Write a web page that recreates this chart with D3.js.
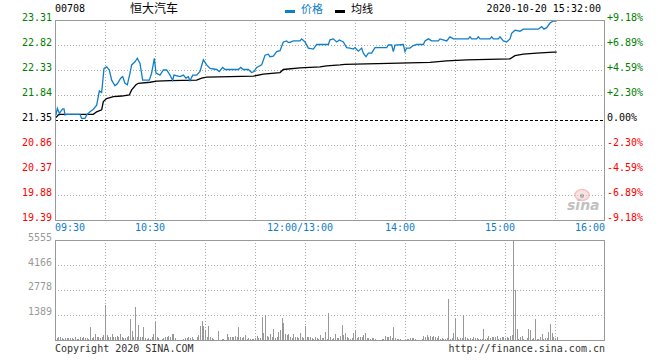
<!DOCTYPE html>
<html><head><meta charset="utf-8">
<script src="https://cdn.jsdelivr.net/npm/d3@7"></script>
<style>
html,body{margin:0;padding:0;background:#fff;}
svg{display:block;}
.mono{font-family:"DejaVu Sans Mono",monospace;font-size:10px;}
.cjk{font-family:"Noto Sans CJK SC",sans-serif;}
</style></head>
<body>
<svg id="chart" width="660" height="360"></svg>
<script>
// ---- data ----
const stockCode = "00708";
const stockName = "恒大汽车";
const timestamp = "2020-10-20 15:32:00";
const priceTicks = [23.31, 22.82, 22.33, 21.84, 21.35, 20.86, 20.37, 19.88, 19.39];
const pctTicks = ["+9.18%", "+6.89%", "+4.59%", "+2.30%", "0.00%", "-2.30%", "-4.59%", "-6.89%", "-9.18%"];
const volTicks = [5555, 4166, 2778, 1389];
const timeLabels = ["09:30", "10:30", "12:00/13:00", "14:00", "15:00", "16:00"];
const timeLabelMinutes = [0, 60, 150, 210, 270, 330];
const prevClose = 21.35;

const priceMinute = [0.6,1.4,2.6,4.6,5.4,6,7,15,16,18,19,21,23,25,26.6,28,29.4,31,32.6,34,36,37.4,39.4,40.6,42,43.4,45,46,48,49.4,51,52.6,56.6,58,59.6,60.6,63,65,67,69,70.6,71.4,75,77,78.6,80,81,82.6,85,87,89,91,93,97,98.6,100.6,102,110,111.4,113,116,118,119.4,121,124,126,128,129,131,133,135,137,139,140,141,143,147,148,150,152,155,157,164,165,167,169,170.6,173,175,177,179,180,182,184,185,186.6,188,190,192,199,200,202,203,204,209,210,211,213,215,217,221,222,224,226,230,231,235,237,239,248,249,250,253,254,255,261,262,263,266,267,268,269,271,273,274,276,279,281,290,292,293.4,295,297,299,301];
const price = [21.45,21.58,21.48,21.57,21.57,21.45,21.46,21.46,21.38,21.38,21.45,21.51,21.56,21.64,21.92,21.89,22.36,22.39,22.33,22.13,22.02,22.06,22.17,22.20,22.07,22.04,22.27,22.43,22.49,22.56,22.46,22.13,22.13,22.27,22.56,22.27,22.23,22.33,22.33,22.23,22.13,22.23,22.20,22.23,22.17,22.20,22.12,22.23,22.23,22.30,22.53,22.43,22.36,22.34,22.30,22.38,22.34,22.34,22.38,22.34,22.34,22.28,22.30,22.38,22.43,22.62,22.64,22.59,22.60,22.69,22.71,22.88,22.90,22.87,22.87,22.90,22.90,22.94,22.88,22.76,22.74,22.83,22.83,22.92,22.94,22.88,22.92,22.88,22.77,22.76,22.74,22.77,22.70,22.76,22.66,22.59,22.66,22.66,22.77,22.77,22.82,22.82,22.69,22.82,22.83,22.69,22.76,22.76,22.81,22.83,22.83,22.90,22.94,22.90,22.90,22.94,22.90,22.98,22.94,22.94,22.98,22.94,22.94,22.98,22.94,22.94,22.98,22.94,22.94,22.98,22.94,22.90,22.88,22.94,23.05,23.11,23.09,23.13,23.13,23.18,23.13,23.16,23.25,23.29,23.29];

const avgMinute = [0.6,2,3,23,25,28,29,31,35,40,44.6,46,48.6,50,57,61,69,85,88,91,105,119,125,135,137,147,159,163,171,174,200,225,235,247,273,276,281,289,299,301];
const avgPrice = [21.40,21.45,21.46,21.46,21.51,21.55,21.71,21.77,21.81,21.82,21.84,21.94,22.04,22.07,22.09,22.11,22.12,22.13,22.17,22.19,22.20,22.21,22.25,22.28,22.34,22.37,22.39,22.41,22.43,22.44,22.46,22.48,22.51,22.53,22.55,22.61,22.64,22.66,22.68,22.68];

// volume per minute, minute 0 .. 301
const volume = [
93,130,148,148,111,74,111,130,93,130,
111,74,148,55,74,185,93,148,93,130,
74,720,93,185,333,148,148,130,148,300,
1944,280,148,185,315,148,185,222,148,333,
148,93,111,185,222,1167,500,148,1833,185,
833,148,148,722,93,74,93,74,148,333,
1000,148,93,0,74,93,148,185,222,148,
315,333,93,0,0,0,0,74,93,111,
148,93,148,74,0,148,259,777,1055,777,
555,185,777,148,111,74,0,0,500,0,
55,74,0,315,185,185,185,148,222,185,
722,148,111,185,278,74,93,74,55,74,
93,222,93,111,1296,370,1370,222,185,315,
148,611,93,148,444,555,1240,963,333,278,
333,148,111,333,148,185,93,370,148,93,
777,148,148,148,93,74,185,93,74,278,
93,111,444,74,1518,148,74,111,333,93,
111,222,833,259,389,148,93,74,93,389,
555,111,148,148,185,278,389,93,130,74,
93,111,74,0,0,0,55,55,222,148,
185,222,111,722,93,55,74,55,0,0,
0,55,74,130,93,130,74,0,0,0,
74,222,148,278,185,222,148,222,148,93,
222,74,93,74,74,93,2277,74,93,407,
1167,148,74,93,111,1370,148,111,74,111,
74,148,93,93,74,55,74,611,74,93,
222,93,148,185,148,222,74,111,148,185,
93,148,93,222,278,5555,2777,611,74,185,
222,74,0,93,611,555,55,111,1167,55,
74,148,333,74,93,111,444,888,407,148,
130,167
];

// ---- drawing ----
const svg = d3.select("#chart");
const L = 55, R = 605, PT = 20, PB = 220, VT = 240, VB = 340;
const x = d3.scaleLinear().domain([0, 330]).range([L, R]);
const yP = d3.scaleLinear().domain([19.39, 23.31]).range([PB, PT]);
const yV = d3.scaleLinear().domain([0, 5555]).range([VB, VT]);
const gridColor = "#aaa";
const blue = "#0f7ec8";
const green = "#008000";
const red = "#ff0000";

const vGrid = d3.range(30, 330, 30);

function vGridLines(top, bottom) {
  svg.append("g").selectAll("line").data(vGrid).join("line")
    .attr("x1", d => Math.round(x(d)) + 0.5).attr("x2", d => Math.round(x(d)) + 0.5)
    .attr("y1", top).attr("y2", bottom)
    .attr("stroke", gridColor).attr("stroke-dasharray", "1,2")
    .attr("shape-rendering", "crispEdges");
}

// price panel grid
vGridLines(PT, PB);
svg.append("g").selectAll("line").data(priceTicks.filter(t => t !== 23.31 && t !== 19.39 && t !== prevClose)).join("line")
  .attr("x1", L).attr("x2", R)
  .attr("y1", d => Math.round(yP(d)) + 0.5).attr("y2", d => Math.round(yP(d)) + 0.5)
  .attr("stroke", gridColor).attr("stroke-dasharray", "1,2")
  .attr("shape-rendering", "crispEdges");

// sina watermark
const wm = svg.append("g").attr("opacity", 0.6);
wm.append("ellipse").attr("cx", 582).attr("cy", 195).attr("rx", 7).attr("ry", 5.5)
  .attr("fill", "#f8d0d0").attr("stroke", "#f09a9a").attr("stroke-width", 1.5);
wm.append("circle").attr("cx", 582).attr("cy", 196).attr("r", 2.2).attr("fill", "#888");
wm.append("text").attr("x", 567).attr("y", 210)
  .attr("font-family", "DejaVu Sans, sans-serif").attr("font-size", 14)
  .attr("font-style", "italic").attr("font-weight", "bold")
  .attr("fill", "#999").text("sina");

// zero line
svg.append("line").attr("x1", L).attr("x2", R)
  .attr("y1", Math.round(yP(prevClose)) + 0.5).attr("y2", Math.round(yP(prevClose)) + 0.5)
  .attr("stroke", "#000").attr("stroke-dasharray", "3,2").attr("shape-rendering", "crispEdges");

// avg line
const avgData = avgMinute.map((m, i) => [m, avgPrice[i]]);
svg.append("path").datum(avgData)
  .attr("d", d3.line().x(d => x(d[0])).y(d => yP(d[1])))
  .attr("fill", "none").attr("stroke", "#000").attr("stroke-width", 1.3);

// price line
const priceData = priceMinute.map((m, i) => [m, price[i]]);
svg.append("path").datum(priceData)
  .attr("d", d3.line().x(d => x(d[0])).y(d => yP(d[1])))
  .attr("fill", "none").attr("stroke", blue).attr("stroke-width", 1.3);

// price panel border
svg.append("rect").attr("x", L + 0.5).attr("y", PT + 0.5).attr("width", R - L - 1).attr("height", PB - PT)
  .attr("fill", "none").attr("stroke", "#999").attr("shape-rendering", "crispEdges");

// left price labels
svg.append("g").selectAll("text").data(priceTicks).join("text")
  .attr("class", "mono").attr("x", 52).attr("y", d => yP(d) + 0.5)
  .attr("text-anchor", "end")
  .attr("fill", d => d > prevClose ? green : (d < prevClose ? red : "#000"))
  .text(d => d.toFixed(2));

// right pct labels
svg.append("g").selectAll("text").data(pctTicks).join("text")
  .attr("class", "mono").attr("x", 607).attr("y", (d, i) => yP(priceTicks[i]) + 0.5)
  .attr("fill", (d, i) => i < 4 ? green : (i > 4 ? red : "#000"))
  .text(d => d);

// time labels
svg.append("g").selectAll("text").data(timeLabels).join("text")
  .attr("class", "mono").attr("y", 231).attr("fill", blue)
  .attr("x", (d, i) => i === 0 ? x(timeLabelMinutes[i]) : (i === timeLabels.length - 1 ? x(timeLabelMinutes[i]) : x(timeLabelMinutes[i]) - 5))
  .attr("text-anchor", (d, i) => i === 0 ? "start" : (i === timeLabels.length - 1 ? "end" : "middle"))
  .text(d => d);

// volume panel grid
vGridLines(VT, VB);
svg.append("g").selectAll("line").data(volTicks.slice(1)).join("line")
  .attr("x1", L).attr("x2", R)
  .attr("y1", d => Math.round(yV(d)) + 0.5).attr("y2", d => Math.round(yV(d)) + 0.5)
  .attr("stroke", gridColor).attr("stroke-dasharray", "1,2")
  .attr("shape-rendering", "crispEdges");

// volume bars
svg.append("g").selectAll("rect").data(volume).join("rect")
  .attr("x", (d, i) => Math.round(x(i)))
  .attr("width", 1)
  .attr("y", d => yV(d))
  .attr("height", d => VB - yV(d))
  .attr("fill", "#999").attr("shape-rendering", "crispEdges");

// volume border
svg.append("rect").attr("x", L + 0.5).attr("y", VT + 0.5).attr("width", R - L - 1).attr("height", VB - VT)
  .attr("fill", "none").attr("stroke", "#999").attr("shape-rendering", "crispEdges");

// volume labels
svg.append("g").selectAll("text").data(volTicks).join("text")
  .attr("class", "mono").attr("x", 52).attr("y", d => yV(d) + 0.5)
  .attr("text-anchor", "end").attr("fill", "#999")
  .text(d => d);

// header
svg.append("text").attr("class", "mono").attr("x", 55).attr("y", 12).attr("fill", "#000").text(stockCode);
svg.append("text").attr("class", "cjk").attr("x", 130).attr("y", 13).attr("font-size", 12).attr("fill", "#000").text(stockName);
svg.append("rect").attr("x", 285).attr("y", 10).attr("width", 10).attr("height", 3).attr("fill", blue);
svg.append("text").attr("class", "cjk").attr("x", 301).attr("y", 13).attr("font-size", 11).attr("fill", blue).text("价格");
svg.append("rect").attr("x", 335).attr("y", 10).attr("width", 10).attr("height", 3).attr("fill", "#000");
svg.append("text").attr("class", "cjk").attr("x", 351).attr("y", 13).attr("font-size", 11).attr("fill", "#000").text("均线");
svg.append("text").attr("class", "mono").attr("x", 601).attr("y", 12).attr("text-anchor", "end").attr("fill", "#000").text(timestamp);

// footer
svg.append("text").attr("class", "mono").attr("x", 55).attr("y", 352).attr("fill", "#333").text("Copyright 2020 SINA.COM");
svg.append("text").attr("class", "mono").attr("x", 605).attr("y", 352).attr("text-anchor", "end").attr("fill", "#333").text("http://finance.sina.com.cn");
</script>
</body></html>
